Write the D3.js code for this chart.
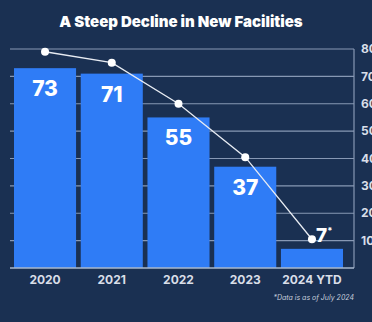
<!DOCTYPE html>
<html>
<head>
<meta charset="utf-8">
<script src="https://cdn.jsdelivr.net/npm/d3@7"></script>
<style>
  html, body { margin: 0; padding: 0; background: #1a3052; }
  svg { display: block; }
</style>
</head>
<body>
<div id="chart"></div>
<script>
(function () {
    'use strict';

    // chart data
    var years = ['2020', '2021', '2022', '2023', '2024 YTD'];
    var facilities = [73, 71, 55, 37, 7];
    var trendValues = [79, 75, 60, 40.5, 10.5];
    var barLabels = ['73', '71', '55', '37', '7'];
    var axisTicks = [10, 20, 30, 40, 50, 60, 70, 80];

    var width = 372, height = 322;
    var plot = { left: 10, right: 354, top: 49, bottom: 268 };
    var font = 'Inter, "Open Sans", sans-serif';
    var last = facilities.length - 1;

    var svg = d3.select('#chart').append('svg')
        .attr('width', width)
        .attr('height', height);

    svg.append('rect')
        .attr('width', width).attr('height', height)
        .attr('fill', '#1a3052');

    var x = d3.scaleBand()
        .domain(years)
        .range([10, 347])
        .paddingInner(0.07)
        .paddingOuter(0.06);

    var y = d3.scaleLinear()
        .domain([0, 80])
        .range([plot.bottom, plot.top]);

    // gridlines (behind bars)
    svg.append('g')
        .selectAll('line').data(axisTicks).join('line')
        .attr('x1', plot.left).attr('x2', plot.right)
        .attr('y1', function (d) { return y(d); })
        .attr('y2', function (d) { return y(d); })
        .attr('stroke', '#8798b4')
        .attr('stroke-width', 1.2);

    // right border
    svg.append('line')
        .attr('x1', plot.right).attr('x2', plot.right)
        .attr('y1', plot.top).attr('y2', plot.bottom)
        .attr('stroke', '#8798b4').attr('stroke-width', 1.2);

    // bars
    svg.append('g')
        .selectAll('rect').data(facilities).join('rect')
        .attr('x', function (d, i) { return x(years[i]); })
        .attr('y', function (d) { return y(d); })
        .attr('width', x.bandwidth())
        .attr('height', function (d) { return y(0) - y(d); })
        .attr('fill', '#2f7cf6');

    // baseline
    svg.append('line')
        .attr('x1', plot.left).attr('x2', plot.right)
        .attr('y1', y(0)).attr('y2', y(0))
        .attr('stroke', '#a9b8cf').attr('stroke-width', 1.5);

    // right axis labels (clipped by the frame edge, as in the original)
    svg.append('g')
        .selectAll('text').data(axisTicks).join('text')
        .attr('x', 361)
        .attr('y', function (d) { return y(d); })
        .attr('dy', '0.35em')
        .attr('fill', '#d9dee8')
        .attr('font-family', font)
        .attr('font-weight', 700)
        .attr('font-size', 12)
        .text(function (d) { return d; });

    // trend line
    var cx = function (d, i) { return x(years[i]) + x.bandwidth() / 2; };
    var line = d3.line()
        .x(cx)
        .y(function (d) { return y(d); });

    svg.append('path')
        .datum(trendValues)
        .attr('d', line)
        .attr('fill', 'none')
        .attr('stroke', '#e8ecf3')
        .attr('stroke-width', 1.3);

    svg.append('g')
        .selectAll('circle').data(trendValues).join('circle')
        .attr('cx', cx)
        .attr('cy', function (d) { return y(d); })
        .attr('r', 4)
        .attr('fill', '#ffffff');

    // value labels inside bars (last one sits above its bar, next to the dot)
    var labels = svg.append('g')
        .selectAll('text').data(facilities).join('text')
        .attr('x', function (d, i) { return i === last ? cx(d, i) + 4 : cx(d, i); })
        .attr('y', function (d, i) { return i === last ? y(d) - 7 : y(d) + 28; })
        .attr('text-anchor', function (d, i) { return i === last ? 'start' : 'middle'; })
        .attr('fill', '#ffffff')
        .attr('font-family', font)
        .attr('font-weight', 800)
        .attr('font-size', function (d, i) { return i === last ? 19 : 21; })
        .text(function (d, i) { return barLabels[i]; });

    labels.filter(function (d, i) { return i === last; })
        .append('tspan')
        .attr('font-size', 9)
        .attr('dy', -8)
        .text('*');

    // x labels
    svg.append('g')
        .selectAll('text').data(years).join('text')
        .attr('x', function (d) { return x(d) + x.bandwidth() / 2; })
        .attr('y', 284)
        .attr('text-anchor', 'middle')
        .attr('fill', '#d9dee8')
        .attr('font-family', font)
        .attr('font-weight', 700)
        .attr('font-size', 12)
        .text(function (d) { return d; });

    // title
    svg.append('text')
        .attr('x', 181).attr('y', 27)
        .attr('text-anchor', 'middle')
        .attr('fill', '#ffffff')
        .attr('font-family', font)
        .attr('font-weight', 900)
        .attr('font-size', 15)
        .text('A Steep Decline in New Facilities');

    // footnote
    svg.append('text')
        .attr('x', 354).attr('y', 300)
        .attr('text-anchor', 'end')
        .attr('fill', '#c5cdda')
        .attr('font-family', font)
        .attr('font-style', 'italic')
        .attr('font-size', 7)
        .text('*Data is as of July 2024');
})();
</script>
</body>
</html>
